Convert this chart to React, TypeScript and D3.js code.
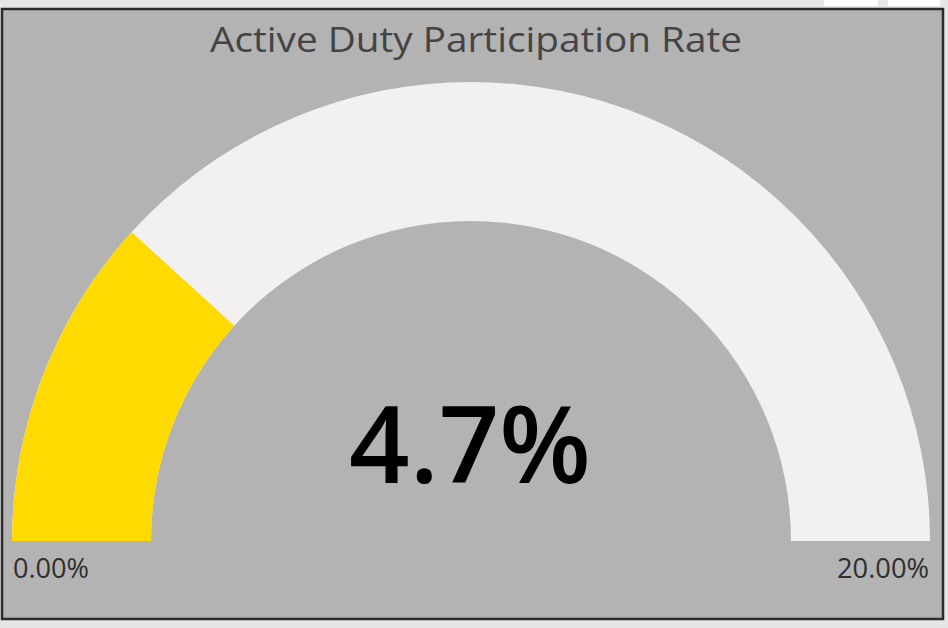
import { useMemo } from 'react';
import { arc, scaleLinear } from 'd3';

// Gauge reading, Power BI style — one value on a 0 → 20 % half-ring.
const TITLE = 'Active Duty Participation Rate';
const GAUGE_MIN = [0];
const GAUGE_MAX = [20];
const GAUGE_VALUE = [4.7];
const TICK_LABELS = ['0.00%', '20.00%'];

const W = 948;
const H = 628;
const CX = 471;
const CY = 541;
const R_OUT = 459;
const R_IN = 320;

const BG_PAGE = '#e6e6e6';
const BG_CARD = '#b3b3b3';
const FILL_TRACK = '#f2f1f0';
const FILL_VALUE = '#ffda00';
const FONT = "'Open Sans', 'Noto Sans', sans-serif";

export default function App() {
  const angle = useMemo(
    () => scaleLinear().domain([GAUGE_MIN[0], GAUGE_MAX[0]]).range([-Math.PI / 2, Math.PI / 2]),
    [],
  );

  const band = arc<{ a0: number; a1: number }>()
    .innerRadius(R_IN)
    .outerRadius(R_OUT)
    .startAngle((d) => d.a0)
    .endAngle((d) => d.a1);

  const track = band({ a0: angle(GAUGE_MIN[0]), a1: angle(GAUGE_MAX[0]) }) ?? '';
  const value = band({ a0: angle(GAUGE_MIN[0]), a1: angle(GAUGE_VALUE[0]) }) ?? '';

  return (
    <div style={{ position: 'absolute', left: 0, top: 0 }}>
      <svg width={W} height={H} style={{ display: 'block' }}>
        <rect x={0} y={0} width={W} height={H} fill={BG_PAGE} />
        {/* little toolbar boxes top-right */}
        <rect x={824} y={0} width={54} height={6} fill="#ffffff" />
        <rect x={888} y={0} width={52} height={6} fill="#ffffff" />

        {/* card */}
        <rect x={2} y={9} width={941} height={610} fill={BG_CARD} stroke="#2b2b2b" strokeWidth={2.5} />

        <text
          x={476} y={52}
          textAnchor="middle"
          fontFamily={FONT} fontSize={34} fill="#444444"
          textLength={532} lengthAdjust="spacingAndGlyphs"
        >
          {TITLE}
        </text>

        <g transform={`translate(${CX},${CY})`}>
          <path d={track} fill={FILL_TRACK} />
          <path d={value} fill={FILL_VALUE} />
        </g>

        <text
          x={470} y={483}
          textAnchor="middle"
          fontFamily={FONT} fontSize={106} fontWeight={600} fill="#000000"
        >
          {GAUGE_VALUE[0].toFixed(1)}%
        </text>

        <text
          x={13} y={578}
          fontFamily={FONT} fontSize={27} fill="#2e2e2e"
          textLength={76} lengthAdjust="spacingAndGlyphs"
        >
          {TICK_LABELS[0]}
        </text>
        <text
          x={837} y={578}
          fontFamily={FONT} fontSize={27} fill="#2e2e2e"
          textLength={92} lengthAdjust="spacingAndGlyphs"
        >
          {TICK_LABELS[1]}
        </text>
      </svg>
    </div>
  );
}
